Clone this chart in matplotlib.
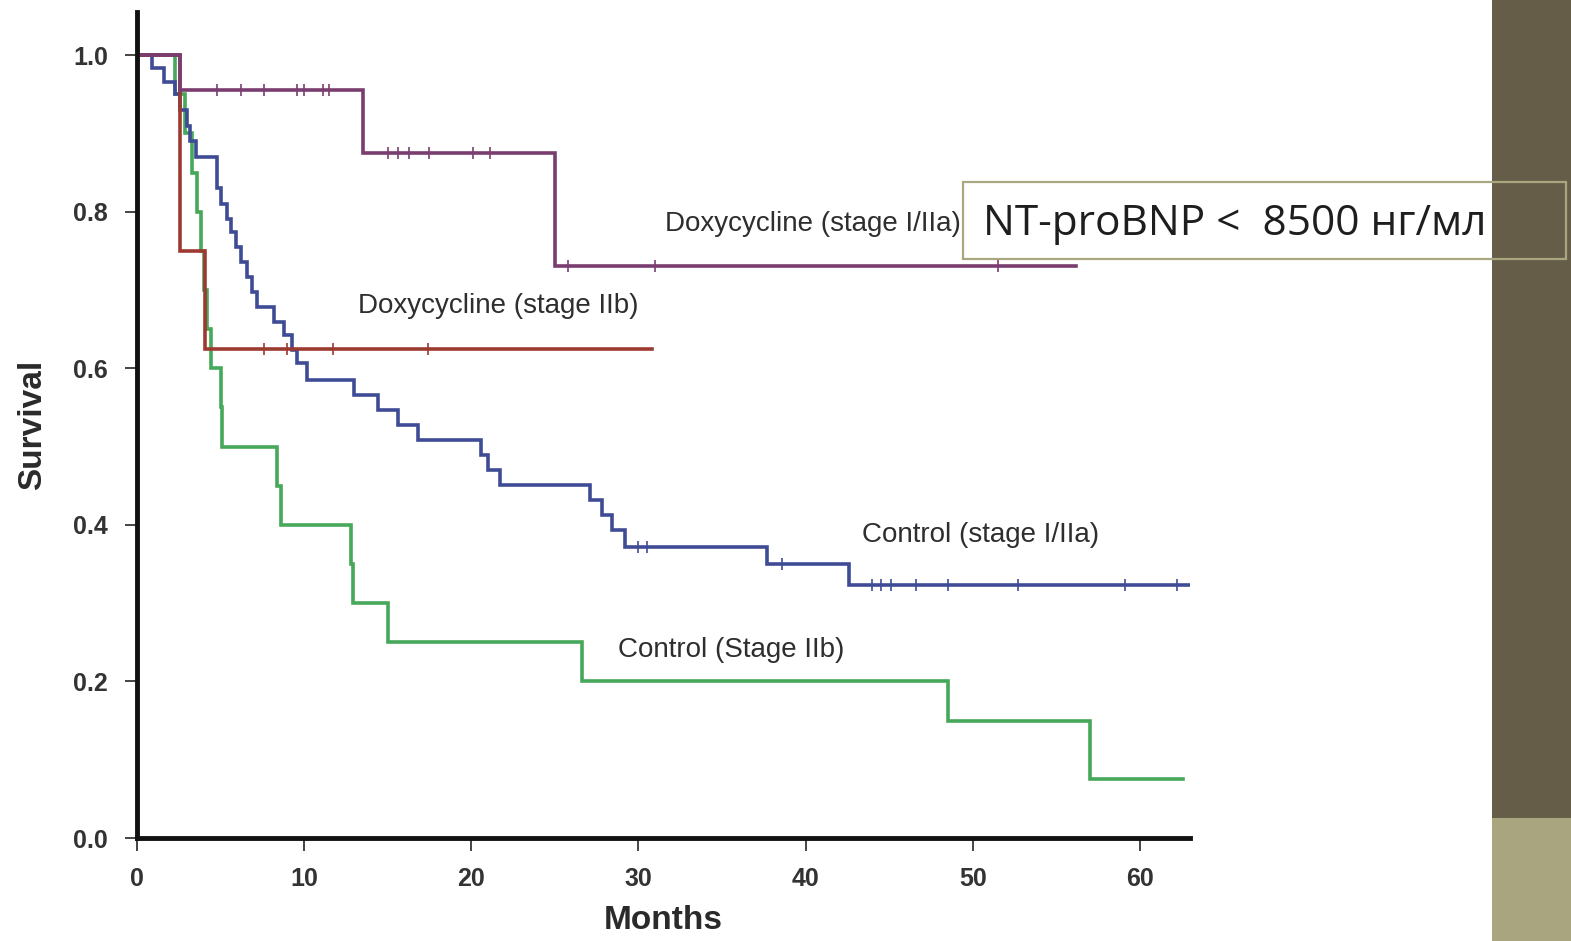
import numpy as np
import matplotlib
matplotlib.use("Agg")
import matplotlib.pyplot as plt
from matplotlib.patches import Rectangle

# Kaplan-Meier curves (months, survival)
doxy_early_t = [0, 2.6, 13.5, 25.0, 56.2]
doxy_early_s = [1.0, 0.955, 0.875, 0.73, 0.73]
doxy_early_cens = [4.8, 6.2, 7.6, 9.6, 10.0, 11.1, 11.5, 15.0, 15.6, 16.3, 17.5,
                   20.1, 21.1, 25.8, 31.0, 51.5]

doxy_late_t = [0, 2.6, 4.05, 30.8]
doxy_late_s = [1.0, 0.75, 0.625, 0.625]
doxy_late_cens = [7.6, 9.0, 11.7, 17.4]

ctrl_early_t = [0, 0.9, 1.6, 2.3, 2.6, 3.0, 3.2, 3.5, 4.8, 5.0, 5.4, 5.6, 5.9, 6.2,
                6.6, 6.9, 7.2, 8.2, 8.8, 9.3, 9.6, 10.2, 13.0, 14.4, 15.6, 16.8,
                20.6, 21.0, 21.7, 27.1, 27.8, 28.4, 29.2, 37.7, 42.6, 63.0]
ctrl_early_s = [1.0, 0.983, 0.966, 0.95, 0.93, 0.91, 0.89, 0.87, 0.83, 0.81, 0.79,
                0.774, 0.755, 0.736, 0.716, 0.697, 0.678, 0.659, 0.642, 0.623, 0.607,
                0.585, 0.566, 0.547, 0.527, 0.508, 0.489, 0.47, 0.451, 0.432, 0.413,
                0.393, 0.372, 0.35, 0.323, 0.323]
ctrl_early_cens = [30.0, 30.5, 38.6, 44.0, 44.5, 45.1, 46.6, 48.5, 52.7, 59.1, 62.2]

ctrl_late_t = [0, 2.3, 2.9, 3.3, 3.6, 3.8, 4.0, 4.2, 4.4, 5.0, 5.1, 8.4, 8.6,
               12.8, 12.9, 15.0, 26.6, 48.5, 57.0, 62.6]
ctrl_late_s = [1.0, 0.95, 0.9, 0.85, 0.8, 0.75, 0.7, 0.65, 0.6, 0.55, 0.5, 0.45, 0.4,
               0.35, 0.3, 0.25, 0.2, 0.15, 0.075, 0.075]

labels = ["Doxycycline (stage I/IIa)", "Doxycycline (stage IIb)",
          "Control (stage I/IIa)", "Control (Stage IIb)"]
label_pos = [(31.6, 0.784), (13.2, 0.679), (43.4, 0.387), (28.8, 0.240)]

box_text = "NT-proBNP <  8500 нг/мл"

fig = plt.figure(figsize=(15.71, 9.41), dpi=100)
fig.patch.set_facecolor("white")

# slide decoration on the right
fig.add_artist(Rectangle((1492 / 1571, 1 - 818 / 941), 79 / 1571, 818 / 941,
                         transform=fig.transFigure, facecolor="#655d48",
                         edgecolor="none", zorder=0))
fig.add_artist(Rectangle((1492 / 1571, 0), 79 / 1571, 1 - 818 / 941,
                         transform=fig.transFigure, facecolor="#a8a57f",
                         edgecolor="none", zorder=0))

ax = fig.add_axes([137 / 1571, 1 - 838 / 941, (1190 - 137) / 1571, (838 - 12) / 941])
ax.set_facecolor("none")


def km_at(t, times, surv):
    idx = np.searchsorted(times, t, side="right") - 1
    return np.asarray(surv)[idx]


curves = [
    (ctrl_late_t, ctrl_late_s, [], "#45a85a"),
    (ctrl_early_t, ctrl_early_s, ctrl_early_cens, "#3f4b95"),
    (doxy_late_t, doxy_late_s, doxy_late_cens, "#9c3a30"),
    (doxy_early_t, doxy_early_s, doxy_early_cens, "#7a3d70"),
]
for times, surv, cens, color in curves:
    ax.step(times, surv, where="post", color=color, lw=2.6, solid_joinstyle="miter")
    if cens:
        ax.plot(cens, km_at(cens, times, surv), linestyle="none", marker="|",
                markersize=8, markeredgewidth=1.2, color=color)

for text, (x, y) in zip(labels, label_pos):
    ax.text(x, y, text, ha="left", va="center", fontsize=20, color="#2e2e2e",
            family="Liberation Sans")

ax.set_xlim(0, 63)
ax.set_ylim(0, 1.055)
ax.set_xticks(np.arange(0, 61, 10))
ax.set_yticks(np.arange(0, 1.01, 0.2))
ax.set_yticklabels([f"{v:.1f}" for v in np.arange(0, 1.01, 0.2)])
for s in ["top", "right"]:
    ax.spines[s].set_visible(False)
for s in ["left", "bottom"]:
    ax.spines[s].set_linewidth(3.5)
    ax.spines[s].set_color("#111111")
ax.tick_params(direction="out", length=9, width=1.4, color="#444444",
               labelsize=18, labelcolor="#333333", pad=12)
for lab in ax.get_xticklabels() + ax.get_yticklabels():
    lab.set_fontweight("bold")
    lab.set_family("Liberation Sans")
ax.set_xlabel("Months", fontsize=24, fontweight="bold", color="#2a2a2a",
              family="Liberation Sans", labelpad=10)
ax.set_ylabel("Survival", fontsize=24, fontweight="bold", color="#2a2a2a",
              family="Liberation Sans", labelpad=18)

# annotation box over the chart
fig.add_artist(Rectangle((963 / 1571, 1 - 259 / 941), (1492 - 963) / 1571, 77 / 941,
                         transform=fig.transFigure, facecolor="white",
                         edgecolor="none", zorder=4))
fig.add_artist(Rectangle((963 / 1571, 1 - 259 / 941), (1566 - 963) / 1571, 77 / 941,
                         transform=fig.transFigure, facecolor="none",
                         edgecolor="#aaa680", lw=1.6, zorder=5))
fig.text(983 / 1571, 1 - 224 / 941, box_text, ha="left", va="center",
         fontsize=30.5, color="#1e1e1e", family="Open Sans", zorder=6)

fig.savefig("out.png", dpi=100)
